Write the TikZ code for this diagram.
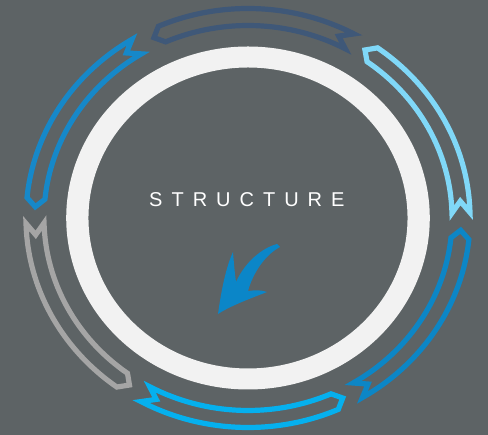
\documentclass[tikz,border=0pt]{standalone}
\usepackage{fontspec}
\setmainfont{Liberation Sans}
\definecolor{bg}{HTML}{5D6365}
\definecolor{ringc}{HTML}{F2F2F2}
\definecolor{cLight}{HTML}{80D8F8}
\definecolor{cDark}{HTML}{3F5878}
\definecolor{cBlueA}{HTML}{1688C9}
\definecolor{cGray}{HTML}{A5A5A5}
\definecolor{cBright}{HTML}{05B0EE}
\definecolor{cBlueB}{HTML}{0C86C6}
\definecolor{cSmall}{HTML}{0B86C8}
\tikzset{segline/.style={line width=5.2pt, line join=miter}}
\newcommand{\ringarrow}[3]{%
  \pgfmathsetmacro{\ta}{#1+1.5}\pgfmathsetmacro{\tn}{#1+4.8}%
  \pgfmathsetmacro{\hb}{#2-1}\pgfmathsetmacro{\hc}{#2-3.4}%
  \draw[segline, draw=#3] (\ta:209.5pt) arc[start angle=\ta, end angle=\hc, radius=209.5pt]
    -- (\hb:201pt) -- (\hc:192.5pt) arc[start angle=\hc, end angle=\ta, radius=192.5pt]
    -- (\tn:201pt) -- cycle;}
\begin{document}
\begin{tikzpicture}[x=1pt,y=1pt]
\fill[bg] (0,0) rectangle (488,435);
\useasboundingbox (0,0) rectangle (488,435);
\begin{scope}[shift={(248,217)}, xscale=1.06]
  \fill[ringc, even odd rule] (0,0) circle[radius=171.5pt] (0,0) circle[radius=150.5pt];
  \ringarrow{0}{57.7}{cLight}
  \ringarrow{60}{117.2}{cDark}
  \ringarrow{120}{177.8}{cBlueA}
  \ringarrow{180}{237.2}{cGray}
  \ringarrow{239.7}{297.4}{cBright}
  \ringarrow{299.5}{357.5}{cBlueB}
\end{scope}
\node[anchor=base west, inner sep=0pt, text=white, font=\fontsize{20}{24}\selectfont\addfontfeature{LetterSpace=45}] (title) at (149,228) {STRUCTURE};
\fill[cSmall] (218,121) .. controls (222,150) and (227,170) .. (233,183)
  .. controls (234,170) and (235,160) .. (236,153)
  .. controls (245,173) and (262,187) .. (277,191)
  -- (280,188)
  .. controls (265,180) and (253,162) .. (248,144)
  .. controls (255,145) and (262,145) .. (267,143)
  .. controls (252,137) and (232,130) .. (218,121) -- cycle;
\end{tikzpicture}
\end{document}
